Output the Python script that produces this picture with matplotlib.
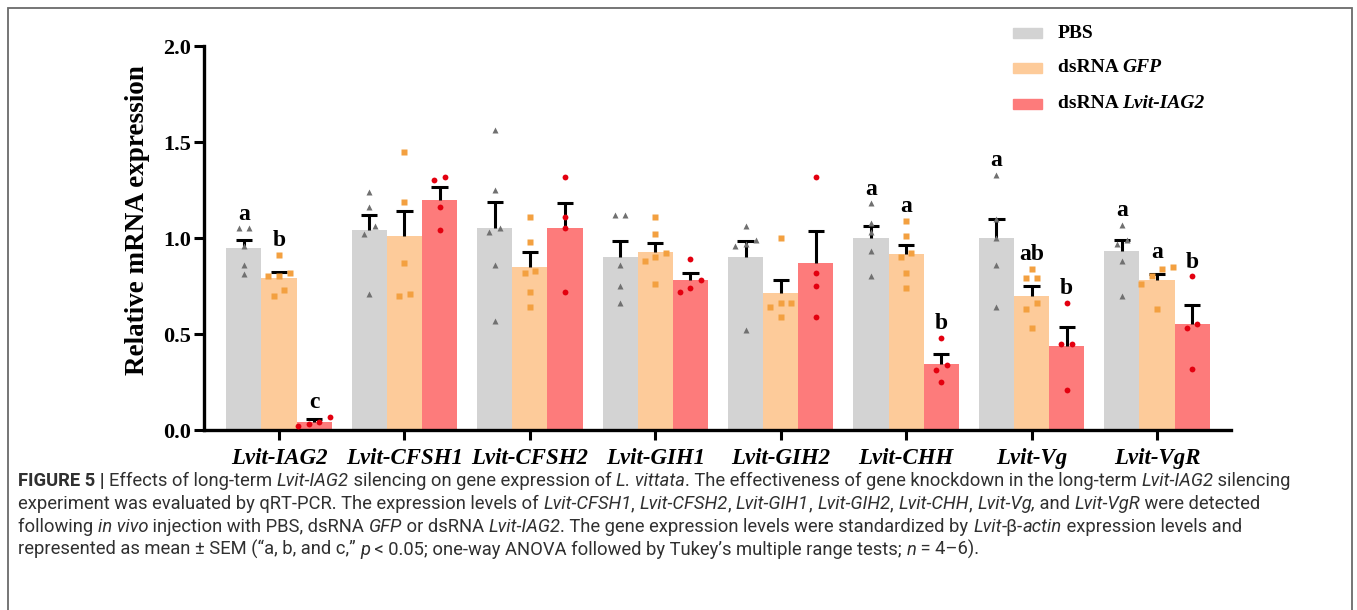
import matplotlib
matplotlib.use("Agg")
import matplotlib.pyplot as plt
import numpy as np
from matplotlib.patches import Rectangle
from matplotlib.transforms import IdentityTransform
from matplotlib.font_manager import FontProperties

genes = ["Lvit-IAG2", "Lvit-CFSH1", "Lvit-CFSH2", "Lvit-GIH1",
         "Lvit-GIH2", "Lvit-CHH", "Lvit-Vg", "Lvit-VgR"]
yticks = [0.0, 0.5, 1.0, 1.5, 2.0]

# bar heights (mean) and SEM
pbs_mean = [0.95, 1.04, 1.05, 0.90, 0.90, 1.00, 1.00, 0.93]
pbs_sem = [0.04, 0.08, 0.14, 0.085, 0.085, 0.06, 0.10, 0.06]
gfp_mean = [0.79, 1.01, 0.85, 0.925, 0.715, 0.915, 0.70, 0.78]
gfp_sem = [0.035, 0.13, 0.075, 0.05, 0.065, 0.05, 0.05, 0.03]
iag_mean = [0.04, 1.20, 1.05, 0.78, 0.87, 0.345, 0.44, 0.55]
iag_sem = [0.017, 0.065, 0.13, 0.04, 0.165, 0.05, 0.095, 0.10]

# individual samples
pbs_pts = [[1.05, 1.05, 0.96, 0.86, 0.81],
           [1.24, 1.16, 1.06, 1.02, 0.71],
           [1.56, 1.25, 1.05, 1.03, 0.86, 0.57],
           [1.12, 1.12, 0.86, 0.75, 0.66],
           [1.06, 0.99, 0.97, 0.96, 0.52],
           [1.18, 1.08, 1.03, 0.93, 0.80],
           [1.33, 1.10, 1.00, 0.86, 0.64],
           [1.07, 0.99, 0.97, 0.88, 0.70]]
gfp_pts = [[0.91, 0.82, 0.80, 0.80, 0.73, 0.70],
           [1.45, 1.19, 0.87, 0.71, 0.70],
           [1.11, 0.98, 0.83, 0.82, 0.72, 0.64],
           [1.11, 1.02, 0.92, 0.90, 0.88, 0.76],
           [1.00, 0.66, 0.66, 0.64, 0.59],
           [1.09, 1.01, 0.92, 0.90, 0.82, 0.74],
           [0.84, 0.79, 0.79, 0.66, 0.63, 0.53],
           [0.85, 0.84, 0.80, 0.76, 0.63]]
iag_pts = [[0.07, 0.04, 0.03, 0.02],
           [1.32, 1.30, 1.16, 1.04],
           [1.32, 1.11, 1.05, 0.72],
           [0.89, 0.78, 0.74, 0.72],
           [1.32, 0.82, 0.75, 0.59],
           [0.48, 0.34, 0.31, 0.25],
           [0.66, 0.45, 0.45, 0.21],
           [0.80, 0.55, 0.53, 0.32]]

pbs_letters = ["a", "", "", "", "", "a", "a", "a"]
gfp_letters = ["b", "", "", "", "", "a", "ab", "a"]
iag_letters = ["c", "", "", "", "", "b", "b", "b"]

W, H = 1357, 610
fig = plt.figure(figsize=(W / 100, H / 100), dpi=100)
ax = fig.add_axes([204 / W, 1 - 430 / H, (1231 - 204) / W, (430 - 46) / H])

serif = "Liberation Serif"
bw = 0.28
x = np.arange(len(genes))


def spread(vals, thr=0.045, step=0.085):
    vals = np.asarray(vals)
    order = np.argsort(vals)
    offs = np.zeros(len(vals))
    groups, cur = [], [order[0]]
    for a, b in zip(order[:-1], order[1:]):
        if vals[b] - vals[a] < thr:
            cur.append(b)
        else:
            groups.append(cur)
            cur = [b]
    groups.append(cur)
    for g in groups:
        for j, idx in enumerate(g):
            offs[idx] = (j - (len(g) - 1) / 2) * step
    return offs


series = [
    (pbs_mean, pbs_sem, pbs_pts, pbs_letters, "#d3d3d3", "^", "#707070", 4.2),
    (gfp_mean, gfp_sem, gfp_pts, gfp_letters, "#fdcb9a", "s", "#f3a040", 3.8),
    (iag_mean, iag_sem, iag_pts, iag_letters, "#fd7b7b", "o", "#e3000f", 4.2),
]
for k, (m, s, pts, lets, col, mk, mcol, ms) in enumerate(series):
    xs = x + (k - 1) * bw
    m = np.array(m)
    s = np.array(s)
    ax.bar(xs, m, width=bw, color=col, zorder=1)
    ax.vlines(xs, m, m + s, color="black", lw=2.2, zorder=2)
    ax.hlines(m + s, xs - 0.065, xs + 0.065, color="black", lw=2.2, zorder=2)
    for i in range(len(genes)):
        p = np.array(pts[i])
        ax.plot(xs[i] + spread(p), p, ls="none", marker=mk, ms=ms,
                color=mcol, mec="none", zorder=3)
        if lets[i]:
            top = max(p.max(), m[i] + s[i])
            ax.text(xs[i], top + 0.075, lets[i], ha="center", va="center",
                    fontsize=17, fontweight="bold", family=serif)

ax.set_xlim(-0.598, 7.59)
ax.set_ylim(0, 2.0)
ax.set_yticks(yticks)
ax.set_yticklabels(["%.1f" % v for v in yticks], fontsize=16,
                   fontweight="bold", family=serif)
ax.set_xticks(x)
ax.set_xticklabels(genes, fontsize=16.5, fontweight="bold", style="italic",
                   family=serif)
ax.tick_params(axis="both", length=7, width=2.2, direction="out")
ax.tick_params(axis="x", pad=6)
ax.tick_params(axis="y", pad=2)
for side in ["top", "right"]:
    ax.spines[side].set_visible(False)
for side in ["left", "bottom"]:
    ax.spines[side].set_linewidth(2.4)
ax.set_ylabel("Relative mRNA expression", fontsize=19.5, fontweight="bold",
              family=serif)
ax.yaxis.set_label_coords(-0.0526, 0.547)

renderer = fig.canvas.get_renderer()
ident = IdentityTransform()


def width_of(txt, fp):
    a = renderer.get_text_width_height_descent("|" + txt + "|", fp, ismath=False)[0]
    b = renderer.get_text_width_height_descent("||", fp, ismath=False)[0]
    return a - b


def runs(x0, ytop, parts, size, family, color, va="baseline"):
    xx = x0
    for txt, style, weight in parts:
        fp = FontProperties(family=family, style=style, weight=weight, size=size)
        fig.text(xx, H - ytop, txt, fontproperties=fp, color=color,
                 transform=ident, va=va)
        xx += width_of(txt, fp)
    return xx


# legend
leg_labels = [[("PBS", "normal", "bold")],
              [("dsRNA ", "normal", "bold"), ("GFP", "italic", "bold")],
              [("dsRNA ", "normal", "bold"), ("Lvit-IAG2", "italic", "bold")]]
leg_rows = [33, 68, 104]
for (m, s, pts, lets, col, mk, mcol, ms), lab, yy in zip(series, leg_labels, leg_rows):
    fig.patches.append(Rectangle((1013, H - yy - 5), 29, 10, color=col,
                                 transform=ident, figure=fig))
    runs(1058, yy, lab, 14, [serif], "black", va="center")

# caption
N, I, B = "normal", "italic", "bold"
cap = [
    [("FIGURE 5 | ", N, B), ("Effects of long-term ", N, N), ("Lvit-IAG2", I, N),
     (" silencing on gene expression of ", N, N), ("L. vittata", I, N),
     (". The effectiveness of gene knockdown in the long-term ", N, N),
     ("Lvit-IAG2", I, N), (" silencing", N, N)],
    [("experiment was evaluated by qRT-PCR. The expression levels of ", N, N),
     ("Lvit-CFSH1", I, N), (", ", N, N), ("Lvit-CFSH2", I, N), (", ", N, N),
     ("Lvit-GIH1", I, N), (", ", N, N), ("Lvit-GIH2", I, N), (", ", N, N),
     ("Lvit-CHH", I, N), (", ", N, N), ("Lvit-Vg,", I, N), (" and ", N, N),
     ("Lvit-VgR", I, N), (" were detected", N, N)],
    [("following ", N, N), ("in vivo", I, N), (" injection with PBS, dsRNA ", N, N),
     ("GFP", I, N), (" or dsRNA ", N, N), ("Lvit-IAG2", I, N),
     (". The gene expression levels were standardized by ", N, N),
     ("Lvit", I, N), ("-\u03b2-", N, N), ("actin", I, N),
     (" expression levels and", N, N)],
    [("represented as mean \u00b1 SEM (\u201ca, b, and c,\u201d ", N, N), ("p", I, N),
     (" < 0.05; one-way ANOVA followed by Tukey\u2019s multiple range tests; ", N, N),
     ("n", I, N), (" = 4\u20136).", N, N)],
]
cap_family = ["Roboto", "DejaVu Sans"]
w10 = sum(width_of(t, FontProperties(family=cap_family, style=st, weight=wt, size=10))
          for t, st, wt in cap[0])
cap_size = 10 * (1291 - 18) / w10
for line, yy in zip(cap, [486, 509, 532, 555]):
    runs(18, yy, line, cap_size, cap_family, "#303030")

# frame around figure + caption
fig.patches.append(Rectangle((8, -10), 1344, H - 8 + 10, fill=False,
                             edgecolor="#6a6a6a", lw=1.3, transform=ident,
                             figure=fig))

fig.savefig("out.png", dpi=100)
